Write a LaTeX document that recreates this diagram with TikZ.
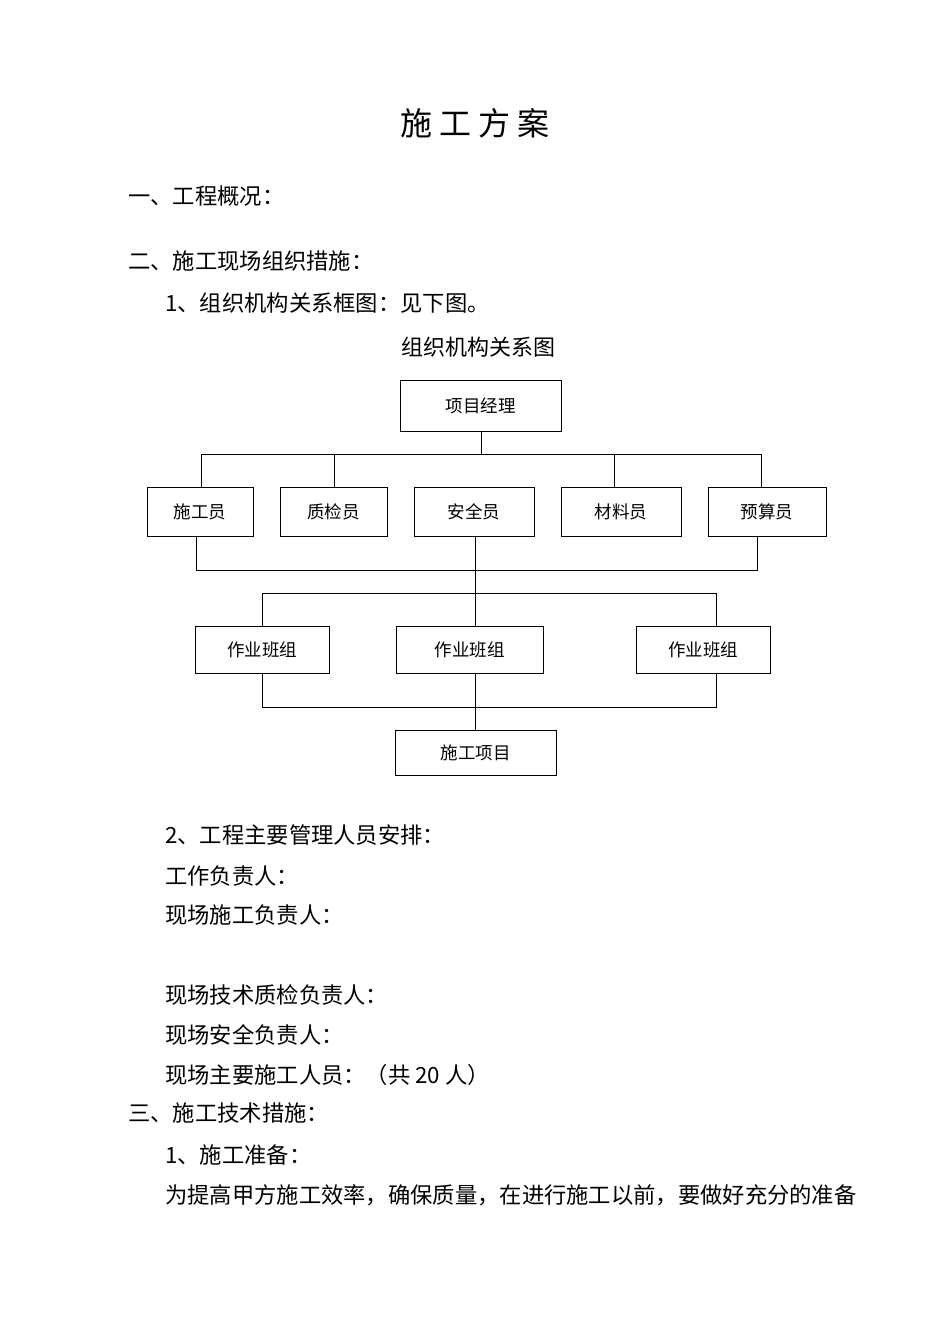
\documentclass[tikz,border=0pt]{standalone}
\usepackage{fontspec}
\setmainfont{Liberation Serif}
\newfontfamily\cjk{Noto Sans CJK SC}
\begin{document}
\begin{tikzpicture}[x=1pt,y=-1pt,
 bx/.style={draw,line width=0.9pt,inner sep=0pt,font=\cjk\fontsize{17.5}{17.5}\selectfont},
 ln/.style={line width=0.8pt},
 txt/.style={anchor=west,inner sep=0pt,font=\cjk\fontsize{22.3}{22.3}\selectfont}]
\useasboundingbox (0,0) rectangle (950,1344);
\node[inner sep=0pt,font=\cjk\fontsize{32}{32}\selectfont] (title) at (475,123) {施 工 方 案};
\node[txt] (l1) at (128,196) {一、工程概况：};
\node[txt] (l2) at (128,261) {二、施工现场组织措施：};
\node[txt] (l3) at (165,303) {1、组织机构关系框图：见下图。};
\node[inner sep=0pt,font=\cjk\fontsize{22}{22}\selectfont] (ct) at (478,347) {组织机构关系图};
\node[txt] (l4) at (165,835) {2、工程主要管理人员安排：};
\node[txt] (l5) at (165,876) {工作负责人：};
\node[txt] (l6) at (165,915) {现场施工负责人：};
\node[txt] (l7) at (165,995) {现场技术质检负责人：};
\node[txt] (l8) at (165,1035) {现场安全负责人：};
\node[txt] (l9) at (165,1075) {现场主要施工人员：（共 20 人）};
\node[txt] (l10) at (128,1113) {三、施工技术措施：};
\node[txt] (l11) at (165,1155) {1、施工准备：};
\node[txt] (l12) at (165,1195) {为提高甲方施工效率，确保质量，在进行施工以前，要做好充分的准备};
% boxes
\node[bx,minimum width=161,minimum height=51] (pm) at (480.5,405.5) {项目经理};
\node[bx,minimum width=106,minimum height=49] (b1) at (200,511.5) {施工员};
\node[bx,minimum width=107,minimum height=49] (b2) at (333.5,511.5) {质检员};
\node[bx,minimum width=120,minimum height=49] (b3) at (474,511.5) {安全员};
\node[bx,minimum width=120,minimum height=49] (b4) at (621,511.5) {材料员};
\node[bx,minimum width=118,minimum height=49] (b5) at (767,511.5) {预算员};
\node[bx,minimum width=134,minimum height=47] (g1) at (262,649.5) {作业班组};
\node[bx,minimum width=147,minimum height=47] (g2) at (469.5,649.5) {作业班组};
\node[bx,minimum width=134,minimum height=47] (g3) at (703,649.5) {作业班组};
\node[bx,minimum width=161,minimum height=45] (pj) at (475.5,752.5) {施工项目};
\coordinate (bus1L) at (201,454); \coordinate (bus1R) at (761,454);
\coordinate (bus2L) at (196,570); \coordinate (bus2R) at (757,570);
\coordinate (bus3L) at (262,593); \coordinate (bus3R) at (716,593);
\coordinate (bus4L) at (262,707); \coordinate (bus4R) at (716,707);
\draw[ln] (bus1L) -- (bus1R);
\draw[ln] (pm.south -| 481,0) -- (481,454);
\draw[ln] (201,454) -- (201,487); \draw[ln] (334,454) -- (334,487);
\draw[ln] (614,454) -- (614,487); \draw[ln] (761,454) -- (761,487);
\draw[ln] (196,536) -- (bus2L) -- (bus2R) -- (757,536);
\draw[ln] (b3.south -| 475,0) -- (475,626);
\draw[ln] (262,626) -- (bus3L) -- (bus3R) -- (716,626);
\draw[ln] (262,673) -- (bus4L) -- (bus4R) -- (716,673);
\draw[ln] (475,673) -- (pj.north -| 475,0);
\end{tikzpicture}
\end{document}
